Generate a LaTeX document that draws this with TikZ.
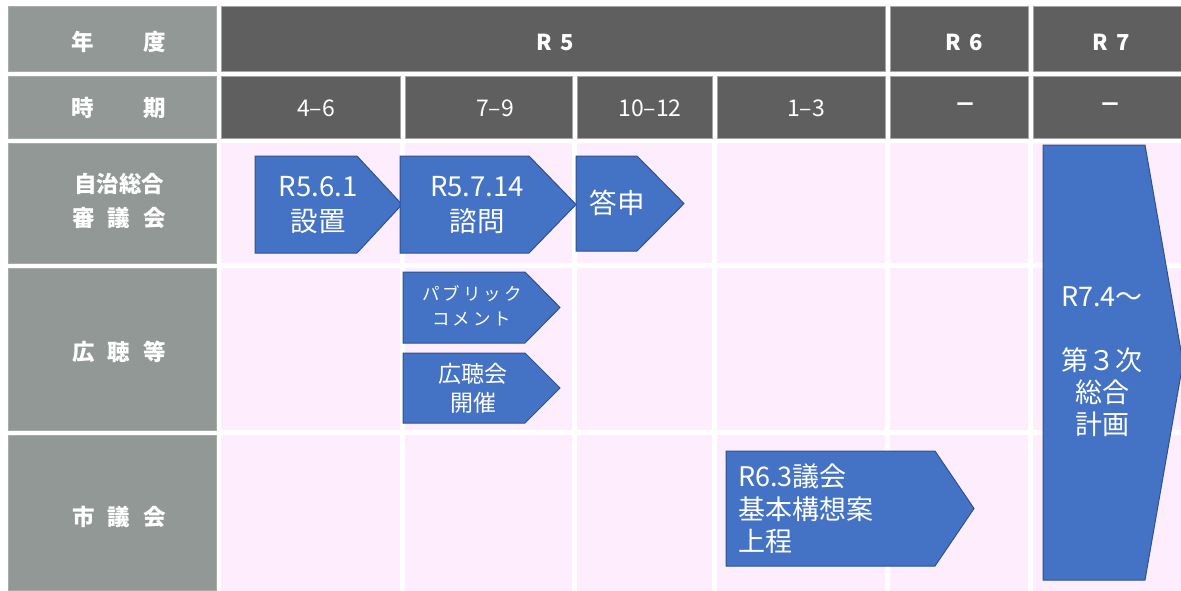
\documentclass[tikz,border=0pt]{standalone}
\usepackage{fontspec}
\setmainfont{Noto Sans CJK JP}
\definecolor{hdr}{HTML}{5F5F5F}
\definecolor{lbl}{HTML}{929895}
\definecolor{pnk}{HTML}{FDEDFD}
\definecolor{blu}{HTML}{4472C4}
\definecolor{bluD}{HTML}{2F528F}
\tikzset{
  hdrcell/.style={fill=hdr, draw=gray!70, line width=0.6pt},
  lblcell/.style={fill=lbl, draw=lbl!80!white, line width=0.6pt},
  bodycell/.style={fill=pnk},
  arrowbox/.style={fill=blu, draw=bluD, line width=1pt, line join=miter},
  lbltxt/.style={text=white, font=\fontsize{22.5}{34}\selectfont\bfseries, align=center, inner sep=0pt},
  hdrtxt/.style={text=white, font=\fontsize{22}{26}\selectfont\bfseries, inner sep=0pt},
  prdtxt/.style={text=white, font=\fontsize{23}{26}\selectfont, inner sep=0pt},
  arrtxt/.style={text=white, font=\fontsize{27.5}{35}\selectfont, align=center, inner sep=0pt},
}
\begin{document}
\begin{tikzpicture}[x=1pt,y=-1pt]
\useasboundingbox (0,0) rectangle (1181,590);
\clip (0,0) rectangle (1181,590);
\fill[white] (0,0) rectangle (1181,590);
% label column
\foreach \ya/\yb in {6/71,76/138,143/263,268/430,435/590}
  \draw[lblcell] (8,\ya) rectangle (216,\yb);
% header row 1
\draw[hdrcell] (221,6) rectangle (885,71);
\draw[hdrcell] (890,6) rectangle (1028,71);
\draw[hdrcell] (1033,6) rectangle (1185,71);
% header row 2 and body
\foreach \xa/\xb in {221/400,405/572,577/712,717/885,890/1028,1033/1185}{
  \draw[hdrcell] (\xa,76) rectangle (\xb,138);
  \foreach \ya/\yb in {143/263,268/430,435/595}
    \fill[bodycell] (\xa,\ya) rectangle (\xb,\yb);
}
% label texts
\node[lbltxt] (l1) at (119,42) {年\hspace{50pt}度};
\node[lbltxt] (l2) at (119,108) {時\hspace{50pt}期};
\node[lbltxt] (l3) at (119,201) {自治総合\\審\hspace{13pt}議\hspace{13pt}会};
\node[lbltxt] (l4) at (119,352) {広\hspace{13pt}聴\hspace{13pt}等};
\node[lbltxt] (l5) at (119,517) {市\hspace{13pt}議\hspace{13pt}会};
% header texts
\node[hdrtxt] (h5) at (555,42) {R\hspace{8pt}5};
\node[hdrtxt] (h6) at (964,42) {R\hspace{8pt}6};
\node[hdrtxt] (h7) at (1111,42) {R\hspace{8pt}7};
\node[prdtxt] (p1) at (316,108) {4–6};
\node[prdtxt] (p2) at (495,108) {7–9};
\node[prdtxt] (p3) at (650,108) {10–12};
\node[prdtxt] (p4) at (806,108) {1–3};
\node[hdrtxt] (p5) at (965,108) {－};
\node[hdrtxt] (p6) at (1110,108) {－};
% arrows
\draw[arrowbox] (255,156) -- (357,156) -- (402,204.5) -- (357,253) -- (255,253) -- cycle;
\node[arrtxt] (a1) at (318,205) {R5.6.1\\設置};
\draw[arrowbox] (400,156) -- (529,156) -- (576,204.5) -- (529,253) -- (400,253) -- cycle;
\node[arrtxt] (a2) at (477,205) {R5.7.14\\諮問};
\draw[arrowbox] (576,156) -- (637,156) -- (684,203.5) -- (637,251) -- (576,251) -- cycle;
\node[arrtxt] (a3) at (617,203) {答申};
\draw[arrowbox] (403,272) -- (525,272) -- (560,307.5) -- (525,343) -- (403,343) -- cycle;
\node[arrtxt, font=\fontsize{17.5}{25}\selectfont] (b1) at (472,306)
  {パ\hspace{3pt}ブ\hspace{3pt}リ\hspace{3pt}ッ\hspace{3pt}ク\\コ\hspace{3pt}メ\hspace{3pt}ン\hspace{3pt}ト};
\draw[arrowbox] (403,353) -- (525,353) -- (560,388) -- (525,423) -- (403,423) -- cycle;
\node[arrtxt, font=\fontsize{23}{29}\selectfont] (b2) at (473,388) {広聴会\\開催};
\draw[arrowbox] (726,451) -- (935,451) -- (974,508.5) -- (935,566) -- (726,566) -- cycle;
\node[arrtxt, align=left, anchor=west, font=\fontsize{27}{32.5}\selectfont] (c1) at (738,509) {R6.3議会\\基本構想案\\上程};
\draw[arrowbox] (1043,145) -- (1145,145) -- (1183,362.5) -- (1145,580) -- (1043,580) -- cycle;
\node[arrtxt, font=\fontsize{27}{32}\selectfont] (r7) at (1102,362) {R7.4～\\[32pt]第３次\\総合\\計画};
\end{tikzpicture}
\end{document}
